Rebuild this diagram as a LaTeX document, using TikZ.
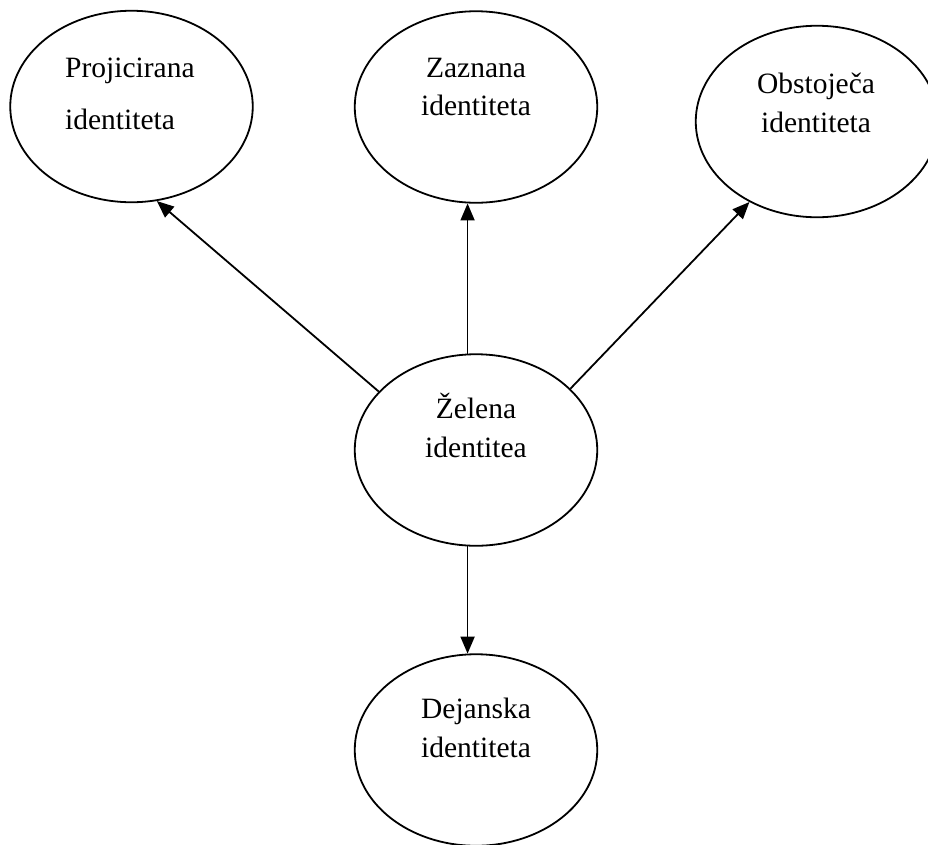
\documentclass[tikz,border=0pt]{standalone}
\usepackage{fontspec}
\setmainfont{Liberation Serif}
\usetikzlibrary{shapes.geometric,arrows.meta}
\begin{document}
\begin{tikzpicture}[x=1pt,y=-1pt,
  oval/.style={draw,ellipse,line width=1.8pt,minimum width=242.5pt,minimum height=191.5pt,inner sep=0pt},
  lbl/.style={inner sep=0pt,anchor=base,font=\fontsize{29.5}{34}\selectfont},
  link/.style={line width=1.8pt,-{Triangle[length=17pt,width=14pt]}}]
  \useasboundingbox (0,0) rectangle (928,844);

  % identity ovals
  \node[oval] (proj) at (131.5,106.5) {};
  \node[oval] (zazn) at (476,107) {};
  \node[oval] (obst) at (817,121.5) {};
  \node[oval] (zel)  at (476,450) {};
  \node[oval] (dej)  at (476,750) {};

  % labels
  \node[lbl,anchor=base west] (projA) at (65,77) {Projicirana};
  \node[lbl,anchor=base west] (projB) at (65,129) {identiteta};
  \node[lbl] (zaznA) at (476,77) {Zaznana};
  \node[lbl] (zaznB) at (476,115) {identiteta};
  \node[lbl] (obstA) at (816,93) {Obstoječa};
  \node[lbl] (obstB) at (816,132) {identiteta};
  \node[lbl] (zelA) at (476,418) {Želena};
  \node[lbl] (zelB) at (476,457) {identitea};
  \node[lbl] (dejA) at (476,718) {Dejanska};
  \node[lbl] (dejB) at (476,757) {identiteta};

  % connectors
  \draw[link] (zel.149) -- (proj.-75);
  \draw[link] (zel.95) -- (zazn.265);
  \draw[link] (zel.33) -- (obst.230);
  \draw[link] (zel.265) -- (dej.95);
\end{tikzpicture}
\end{document}
